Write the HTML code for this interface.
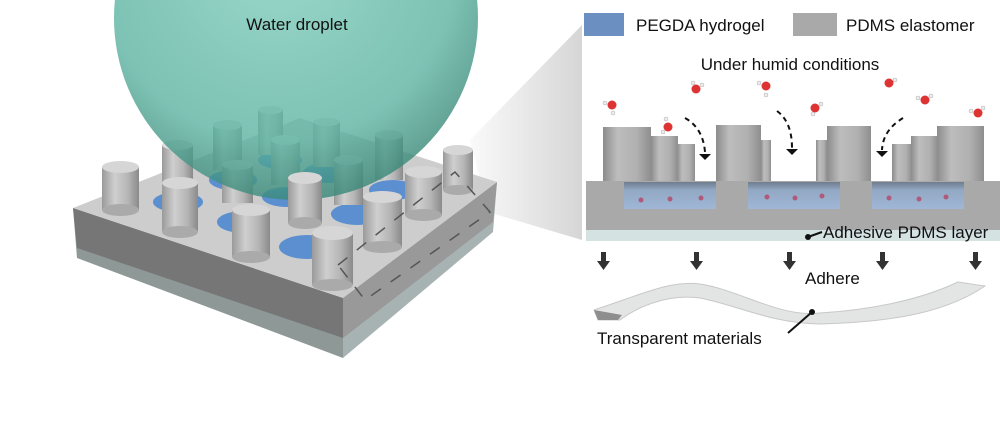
<!DOCTYPE html>
<html><head><meta charset="utf-8"><style>
html,body{margin:0;padding:0;background:#fff;}
svg{display:block;font-family:"Liberation Sans",Arial,sans-serif;}
</style></head><body>
<svg width="1000" height="431" viewBox="0 0 1000 431" xmlns="http://www.w3.org/2000/svg">
<defs>
<linearGradient id="cyl" x1="0" x2="1" y1="0" y2="0">
<stop offset="0" stop-color="#9a9a9a"/><stop offset="0.35" stop-color="#cfcfcf"/><stop offset="0.7" stop-color="#b5b5b5"/><stop offset="1" stop-color="#8a8a8a"/></linearGradient>
<radialGradient id="sph" cx="0.45" cy="0.35" r="0.7"><stop offset="0" stop-color="#7fcdbd"/><stop offset="0.7" stop-color="#5cb3a1"/><stop offset="1" stop-color="#2f7c6d"/></radialGradient>
<linearGradient id="wedge" x1="0" x2="1"><stop offset="0" stop-color="#fafafa"/><stop offset="1" stop-color="#d6d6d6"/></linearGradient>
<linearGradient id="gel" x1="0" x2="0" y1="0" y2="1"><stop offset="0" stop-color="#6f7c8e"/><stop offset="0.3" stop-color="#92a8c4"/><stop offset="1" stop-color="#9fb6d6"/></linearGradient>
<linearGradient id="cylR" x1="0" x2="1"><stop offset="0" stop-color="#8c8c8c"/><stop offset="0.3" stop-color="#bdbdbd"/><stop offset="0.7" stop-color="#b0b0b0"/><stop offset="1" stop-color="#8e8e8e"/></linearGradient>
</defs>

<polygon points="470,140 582,25 582,240 488,212" fill="url(#wedge)"/>

<polygon points="73,208 343,298 343,358 77,258" fill="#8e9897"/>
<polygon points="73,208 343,298 343,338 77,248" fill="#767676"/>
<polygon points="343,298 497,182 493,232 343,358" fill="#a7b3b2"/>
<polygon points="343,298 497,182 493,222 343,338" fill="#999"/>
<polygon points="73,208 300,118 497,182 343,298" fill="#cdcdcd"/>

<g fill="#5b8fd0">
<ellipse cx="178" cy="202" rx="25" ry="10"/><ellipse cx="243" cy="222" rx="26" ry="11"/><ellipse cx="307" cy="247" rx="28" ry="12"/>
<ellipse cx="357" cy="214" rx="26" ry="11"/><ellipse cx="393" cy="190" rx="24" ry="10"/><ellipse cx="233" cy="180" rx="24" ry="10"/>
<ellipse cx="287" cy="197" rx="25" ry="10"/><ellipse cx="327" cy="173" rx="24" ry="10"/><ellipse cx="280" cy="160" rx="22" ry="9"/>
</g>

<g>
<rect x="162" y="145" width="31" height="45" fill="url(#cyl)"/><ellipse cx="177.5" cy="145" rx="15.5" ry="5" fill="#ddd"/>
<rect x="213" y="125" width="29" height="45" fill="url(#cyl)"/><ellipse cx="227.5" cy="125" rx="14.5" ry="5" fill="#ddd"/>
<rect x="258" y="110" width="25" height="45" fill="url(#cyl)"/><ellipse cx="270.5" cy="110" rx="12.5" ry="4" fill="#ddd"/>
<rect x="313" y="122" width="27" height="45" fill="url(#cyl)"/><ellipse cx="326.5" cy="122" rx="13.5" ry="4" fill="#ddd"/>
<rect x="375" y="135" width="28" height="45" fill="url(#cyl)"/><ellipse cx="389" cy="135" rx="14" ry="5" fill="#ddd"/>
<rect x="271" y="140" width="29" height="45" fill="url(#cyl)"/><ellipse cx="285.5" cy="140" rx="14.5" ry="5" fill="#ddd"/>
<rect x="334" y="160" width="29" height="45" fill="url(#cyl)"/><ellipse cx="348.5" cy="160" rx="14.5" ry="5" fill="#ddd"/>
<rect x="222" y="165" width="31" height="38" fill="url(#cyl)"/><ellipse cx="237.5" cy="165" rx="15.5" ry="5" fill="#ddd"/>
</g>

<circle cx="296" cy="18" r="182" fill="url(#sph)" opacity="0.8"/>
<text x="297" y="30" font-size="17" text-anchor="middle" fill="#111">Water droplet</text>

<g>
<rect x="102" y="167" width="37" height="43" fill="url(#cyl)"/><ellipse cx="120.5" cy="210" rx="18.5" ry="6" fill="#aaa"/><ellipse cx="120.5" cy="167" rx="18.5" ry="6" fill="#d6d6d6"/>
<rect x="162" y="183" width="36" height="49" fill="url(#cyl)"/><ellipse cx="180" cy="232" rx="18" ry="6" fill="#aaa"/><ellipse cx="180" cy="183" rx="18" ry="6" fill="#d6d6d6"/>
<rect x="288" y="178" width="34" height="45" fill="url(#cyl)"/><ellipse cx="305" cy="223" rx="17" ry="6" fill="#aaa"/><ellipse cx="305" cy="178" rx="17" ry="6" fill="#d6d6d6"/>
<rect x="232" y="210" width="38" height="47" fill="url(#cyl)"/><ellipse cx="251" cy="257" rx="19" ry="6" fill="#aaa"/><ellipse cx="251" cy="210" rx="19" ry="6" fill="#d6d6d6"/>
<rect x="443" y="150" width="30" height="40" fill="url(#cyl)"/><ellipse cx="458" cy="190" rx="15" ry="5" fill="#aaa"/><ellipse cx="458" cy="150" rx="15" ry="5" fill="#d6d6d6"/>
<rect x="405" y="172" width="37" height="43" fill="url(#cyl)"/><ellipse cx="423.5" cy="215" rx="18.5" ry="6" fill="#aaa"/><ellipse cx="423.5" cy="172" rx="18.5" ry="6" fill="#d6d6d6"/>
<rect x="363" y="197" width="39" height="50" fill="url(#cyl)"/><ellipse cx="382.5" cy="247" rx="19.5" ry="6" fill="#aaa"/><ellipse cx="382.5" cy="197" rx="19.5" ry="6" fill="#d6d6d6"/>
<rect x="312" y="233" width="41" height="52" fill="url(#cyl)"/><ellipse cx="332.5" cy="285" rx="20.5" ry="6" fill="#aaa"/><ellipse cx="332.5" cy="233" rx="20.5" ry="7" fill="#d6d6d6"/>
</g>
<polygon points="338,265 455,172 490,212 365,300" fill="none" stroke="#555" stroke-width="1.5" stroke-dasharray="12,12"/>

<rect x="584" y="13" width="40" height="23" fill="#6a8fc0"/>
<text x="636" y="31" font-size="17" fill="#111">PEGDA hydrogel</text>
<rect x="793" y="13" width="44" height="23" fill="#a9a9a9"/>
<text x="846" y="31" font-size="17" fill="#111">PDMS elastomer</text>
<text x="790" y="70" font-size="17" text-anchor="middle" fill="#111">Under humid conditions</text>

<rect x="586" y="230" width="414" height="11" fill="#d4e3e2"/>
<rect x="586" y="181" width="414" height="49" fill="#a9a9a9"/>
<g>
<rect x="677" y="144" width="18" height="37" fill="url(#cylR)"/>
<rect x="651" y="136" width="27" height="45" fill="url(#cylR)"/>
<rect x="603" y="127" width="48" height="54" fill="url(#cylR)"/>
<rect x="761" y="140" width="10" height="41" fill="url(#cylR)"/>
<rect x="716" y="125" width="45" height="56" fill="url(#cylR)"/>
<rect x="816" y="140" width="11" height="41" fill="url(#cylR)"/>
<rect x="827" y="126" width="44" height="55" fill="url(#cylR)"/>
<rect x="892" y="144" width="20" height="37" fill="url(#cylR)"/>
<rect x="911" y="136" width="27" height="45" fill="url(#cylR)"/>
<rect x="937" y="126" width="47" height="55" fill="url(#cylR)"/>
</g>
<rect x="624" y="182" width="92" height="27" fill="url(#gel)"/>
<rect x="748" y="182" width="92" height="27" fill="url(#gel)"/>
<rect x="872" y="182" width="92" height="27" fill="url(#gel)"/>
<g fill="#b05a7a">
<circle cx="641" cy="200" r="2.5"/><circle cx="670" cy="199" r="2.5"/><circle cx="701" cy="198" r="2.5"/>
<circle cx="767" cy="197" r="2.5"/><circle cx="795" cy="198" r="2.5"/><circle cx="822" cy="196" r="2.5"/>
<circle cx="889" cy="198" r="2.5"/><circle cx="919" cy="199" r="2.5"/><circle cx="946" cy="197" r="2.5"/>
</g>
<g fill="#d33">
<circle cx="612" cy="105" r="4.5"/><circle cx="668" cy="127" r="4.5"/><circle cx="696" cy="89" r="4.5"/><circle cx="766" cy="86" r="4.5"/><circle cx="815" cy="108" r="4.5"/><circle cx="889" cy="83" r="4.5"/><circle cx="925" cy="100" r="4.5"/><circle cx="978" cy="113" r="4.5"/>
</g>
<g fill="#eee" stroke="#aaa" stroke-width="0.5">
<circle cx="605" cy="103" r="2"/><circle cx="613" cy="113" r="2"/><circle cx="663" cy="132" r="2"/><circle cx="666" cy="119" r="2"/><circle cx="693" cy="83" r="2"/><circle cx="702" cy="85" r="2"/><circle cx="759" cy="83" r="2"/><circle cx="766" cy="95" r="2"/><circle cx="813" cy="114" r="2"/><circle cx="821" cy="104" r="2"/><circle cx="895" cy="80" r="2"/><circle cx="918" cy="98" r="2"/><circle cx="931" cy="96" r="2"/><circle cx="971" cy="111" r="2"/><circle cx="983" cy="108" r="2"/>
</g>
<g fill="none" stroke="#111" stroke-width="2" stroke-dasharray="5,4">
<path d="M685,118 Q703,128 705,152"/>
<path d="M777,111 Q792,122 792,148"/>
<path d="M903,118 Q883,130 882,150"/>
</g>
<g fill="#111">
<polygon points="699,154 711,154 705,160"/><polygon points="786,149 798,149 792,155"/><polygon points="876,151 888,151 882,157"/>
</g>
<circle cx="808" cy="237" r="3" fill="#111"/>
<path d="M808,237 L822,232" stroke="#111" stroke-width="2"/>
<text x="823" y="238" font-size="17" fill="#111">Adhesive PDMS layer</text>

<g fill="#333">
<rect x="601" y="252" width="5" height="10"/><polygon points="597,261 610,261 603.5,270"/>
<rect x="694" y="252" width="5" height="10"/><polygon points="690,261 703,261 696.5,270"/>
<rect x="787" y="252" width="5" height="10"/><polygon points="783,261 796,261 789.5,270"/>
<rect x="880" y="252" width="5" height="10"/><polygon points="876,261 889,261 882.5,270"/>
<rect x="973" y="252" width="5" height="10"/><polygon points="969,261 982,261 975.5,270"/>
</g>
<text x="805" y="284" font-size="17" fill="#111">Adhere</text>

<path d="M594,310 C640,295 670,280 700,284 C740,290 780,318 820,313 C870,310 920,300 958,282 L985,286 C950,310 900,322 820,324 C770,323 740,306 700,298 C670,294 640,305 620,320 L598,320 Z" fill="#e3e4e4" stroke="#c8c8c8" stroke-width="1"/>
<polygon points="594,310 622,315 618,320 598,320" fill="#8e8e8e"/>
<circle cx="812" cy="312" r="3" fill="#111"/>
<path d="M812,312 L788,333" stroke="#111" stroke-width="2"/>
<text x="597" y="344" font-size="17" fill="#111">Transparent materials</text>
</svg>
</body></html>
